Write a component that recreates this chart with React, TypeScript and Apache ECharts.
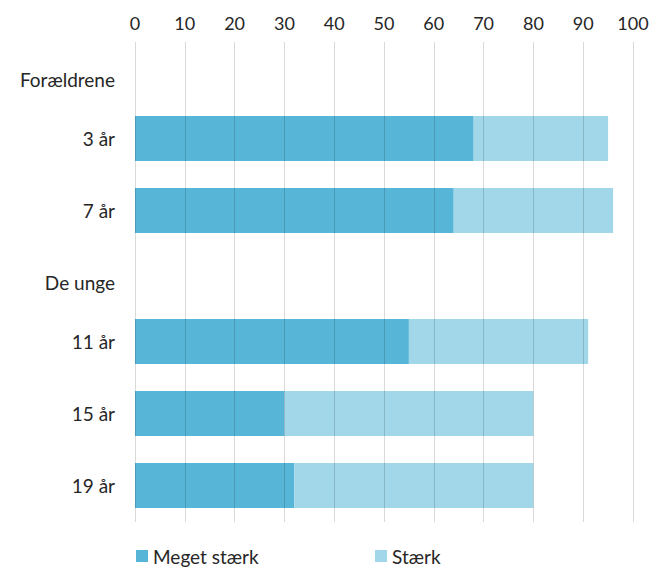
import React, { useEffect, useRef } from "react";
import * as echarts from "echarts";

const parentCategories = ["Forældrene", "3 år", "7 år"];
const youthCategories = ["De unge", "11 år", "15 år", "19 år"];
const parentMegetStaerk = [null, 68, 64];
const parentStaerk = [null, 27, 32];
const youthMegetStaerk = [null, 55, 30, 32];
const youthStaerk = [null, 36, 50, 48];
const xTicks = [0, 10, 20, 30, 40, 50, 60, 70, 80, 90, 100];
const seriesNames = ["Meget stærk", "Stærk"];

const FONT = "Lato, 'Open Sans', sans-serif";
const TEXT = "#262626";
const DARK = "#57b6d7";
const LIGHT = "#a1d7e8";

export default function App() {
  const ref = useRef<HTMLDivElement>(null);
  useEffect(() => {
    if (!ref.current) return;
    const chart = echarts.init(ref.current, null, { renderer: "svg" });
    const yLabel = (fs: number) => ({
      fontSize: fs,
      fontFamily: FONT,
      color: TEXT,
      margin: 20,
      formatter: (v: string, i: number) => (i === 0 ? `{h|${v}}` : v),
      rich: { h: { fontSize: fs, fontFamily: FONT, color: TEXT, padding: [25, 0, 0, 0] } },
    });
    const hiddenX = (g: number) => ({
      type: "value",
      gridIndex: g,
      min: 0,
      max: 100,
      show: false,
    });
    const barSeries = (name: string, data: any[], g: number, color: string) => ({
      name,
      type: "bar",
      stack: "s" + g,
      xAxisIndex: g,
      yAxisIndex: g,
      data,
      barWidth: 45,
      itemStyle: { color },
    });
    const legendText = { fontSize: 19, fontFamily: FONT, color: TEXT, lineHeight: 20 };
    chart.setOption({
      animation: false,
      grid: [
        { left: 135, right: 27, top: 30.5, height: 216 },
        { left: 135, right: 27, top: 233.5, height: 288 },
        { left: 135, right: 27, top: 42, height: 480 },
      ],
      legend: [
        {
          data: [seriesNames[0]],
          left: 136,
          top: 546,
          padding: 0,
          itemWidth: 12,
          itemHeight: 12,
          itemGap: 5,
          icon: "rect",
          textStyle: legendText,
        },
        {
          data: [seriesNames[1]],
          left: 375,
          top: 546,
          padding: 0,
          itemWidth: 12,
          itemHeight: 12,
          icon: "rect",
          textStyle: legendText,
        },
      ],
      xAxis: [
        hiddenX(0),
        hiddenX(1),
        {
          type: "value",
          gridIndex: 2,
          position: "top",
          min: 0,
          max: 100,
          interval: 10,
          z: 10,
          axisLine: { show: false },
          axisTick: { show: false },
          axisLabel: {
            fontSize: 18,
            fontFamily: FONT,
            color: TEXT,
            margin: 10,
            formatter: (v: number) => (xTicks.includes(v) ? String(v) : ""),
          },
          splitLine: { show: true, lineStyle: { color: "rgba(0,0,0,0.15)", width: 1 } },
        },
      ],
      yAxis: [
        {
          type: "category",
          gridIndex: 0,
          inverse: true,
          data: parentCategories,
          axisLine: { show: false },
          axisTick: { show: false },
          splitLine: { show: false },
          axisLabel: yLabel(19),
        },
        {
          type: "category",
          gridIndex: 1,
          inverse: true,
          data: youthCategories,
          axisLine: { show: false },
          axisTick: { show: false },
          splitLine: { show: false },
          axisLabel: yLabel(19),
        },
        { type: "value", gridIndex: 2, min: 0, max: 1, show: false },
      ],
      series: [
        barSeries(seriesNames[0], parentMegetStaerk, 0, DARK),
        barSeries(seriesNames[1], parentStaerk, 0, LIGHT),
        barSeries(seriesNames[0], youthMegetStaerk, 1, DARK),
        barSeries(seriesNames[1], youthStaerk, 1, LIGHT),
      ],
    });
    return () => chart.dispose();
  }, []);
  return <div ref={ref} style={{ width: 660, height: 573, position: "absolute", left: 0, top: 0 }} />;
}
